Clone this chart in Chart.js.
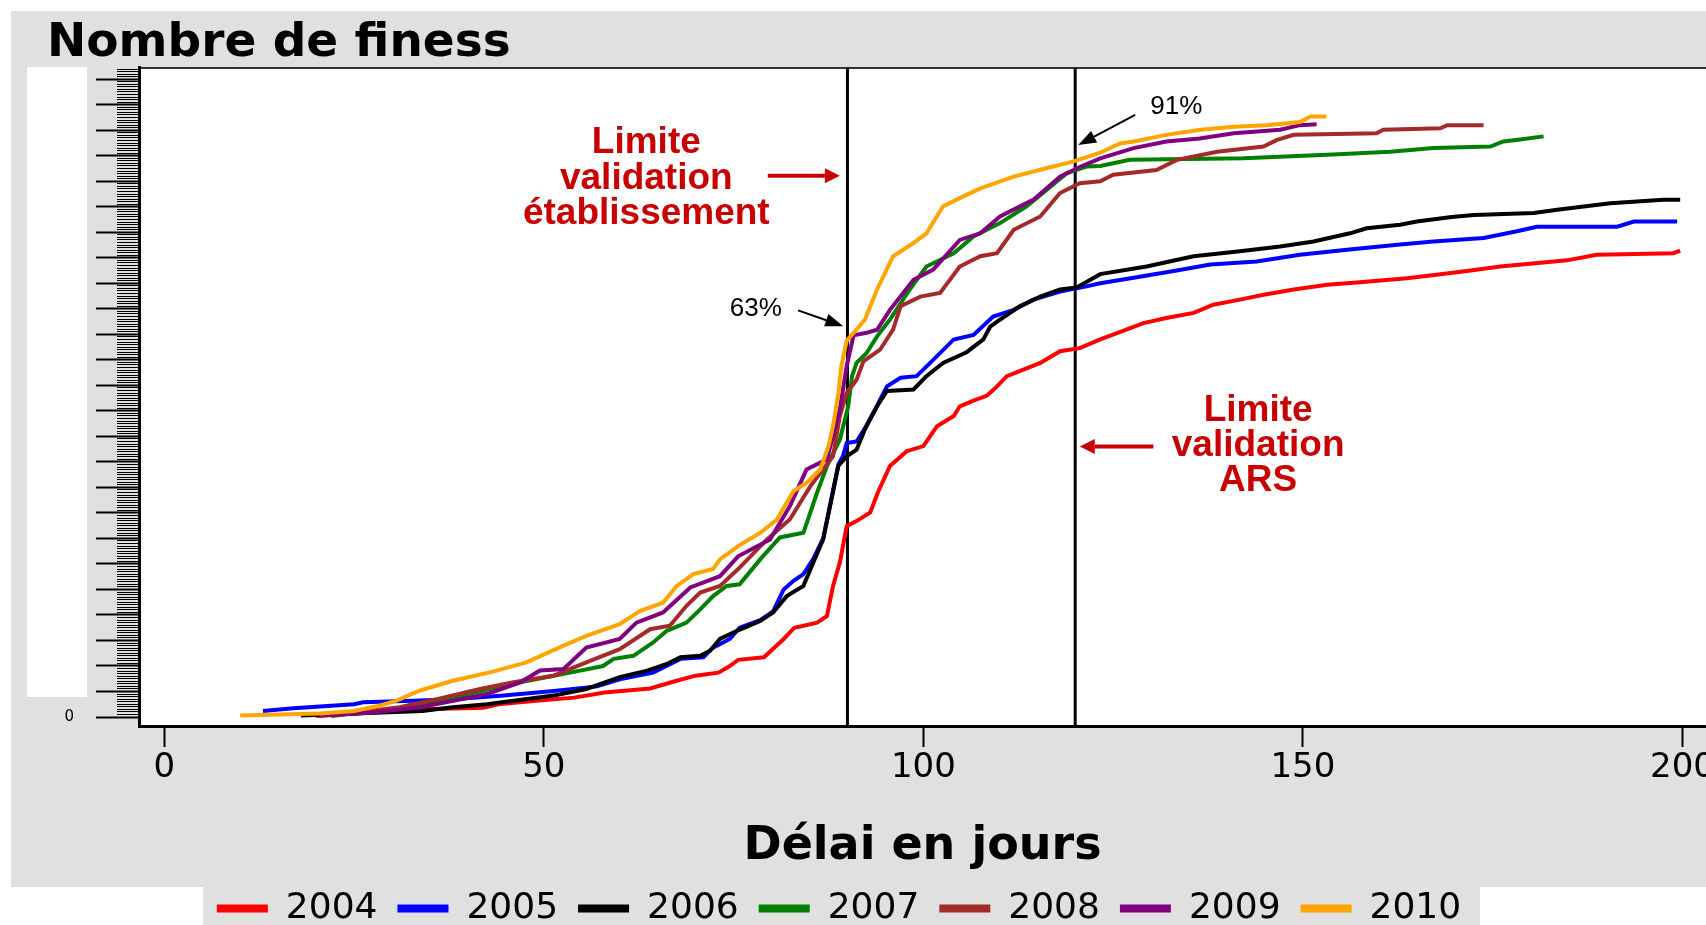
<!DOCTYPE html>
<html><head><meta charset="utf-8">
<script src="https://cdn.jsdelivr.net/npm/chart.js@4/dist/chart.umd.min.js"></script>
<style>html,body{margin:0;padding:0;background:#fff;overflow:hidden}canvas{display:block}</style>
</head><body>
<canvas id="c" width="1706" height="925"></canvas>
<script>
// ---------- data ----------
const years = ['2004', '2005', '2006', '2007', '2008', '2009', '2010'];
const colors = ['#ff0000', '#0000ff', '#000000', '#008000', '#a52a2a', '#800080', '#ffa500'];

const days2004 = [20, 34, 42, 44, 49, 54, 58, 64, 67.5, 70, 73, 74.5, 75.6, 79, 81.6, 83, 86, 87.3, 88.1, 89, 89.9, 91.2, 93, 94, 95.6, 97.8, 100, 101.8, 104, 104.8, 106.6, 108.4, 109.7, 111, 115.4, 118, 120.6, 123.3, 129, 132, 135.6, 138.2, 141.7, 145, 148.8, 153.2, 157.5, 163.7, 167.6, 171.6, 176, 184.8, 188.7, 198.8, 199.7];
const vals2004 = [2, 15, 18, 25, 32, 38, 48, 56, 71, 81, 87, 100, 112, 117, 153, 175, 185, 198, 257, 303, 374, 384, 401, 440, 492, 521, 531, 570, 590, 609, 620, 630, 648, 668, 694, 717, 723, 740, 772, 782, 792, 808, 818, 828, 838, 847, 852, 860, 867, 874, 883, 895, 906, 909, 914];

const days2005 = [13, 17, 25, 26.2, 32.8, 38, 44.7, 51.3, 57, 60, 64.4, 68, 71, 72.3, 74.5, 75.8, 78.5, 80.2, 81.6, 82.9, 84.2, 85.5, 86.8, 87.7, 88.8, 89.4, 89.9, 91.2, 92.3, 93.9, 95.2, 97, 99.1, 100.9, 104, 106.6, 109.2, 111.9, 114.5, 118, 121.5, 123.3, 127.7, 133, 137.8, 143.9, 149.6, 155.8, 162.8, 167.2, 173.8, 178.2, 180.8, 191.4, 193.6, 199.3];
const vals2005 = [12, 17, 25, 29, 32, 35, 42, 51, 60, 74, 87, 114, 117, 136, 153, 175, 190, 207, 250, 267, 280, 310, 350, 415, 495, 511, 537, 540, 566, 610, 648, 665, 668, 694, 740, 749, 785, 798, 818, 834, 844, 850, 861, 874, 887, 893, 906, 916, 926, 932, 939, 952, 961, 961, 971, 971];

const days2006 = [18, 34, 38, 42.5, 51.3, 55.6, 60, 63.6, 66.2, 68, 70.6, 71.9, 73.2, 75.6, 78.5, 80.2, 82, 84.2, 85.5, 86.8, 87.7, 88.8, 89.9, 91.2, 92.3, 93.9, 95.2, 98.7, 100.4, 102.6, 105.7, 107.9, 108.8, 110.1, 112.7, 115.4, 118, 120.2, 123.3, 129.4, 135.6, 141.7, 147, 151.4, 156.2, 158.4, 162.8, 165, 169.6, 172.5, 180.4, 183.5, 190.5, 197.5, 199.7];
const vals2006 = [3, 12, 19, 25, 42, 55, 78, 91, 104, 117, 120, 130, 153, 170, 188, 205, 237, 257, 303, 348, 413, 492, 511, 524, 564, 609, 639, 642, 668, 694, 715, 740, 765, 779, 805, 824, 838, 842, 868, 883, 903, 913, 922, 932, 948, 958, 965, 971, 980, 984, 988, 994, 1007, 1014, 1014];

const days2007 = [22, 30, 35.5, 40, 46.9, 51.3, 54.8, 57.8, 59.2, 61.8, 64.4, 66.2, 68.8, 70.6, 72.3, 74.1, 75.8, 78.5, 81.1, 84.2, 86, 87.3, 89, 90.1, 90.6, 91.2, 92.5, 93.9, 95.6, 98.2, 100.4, 104, 106.6, 110.1, 113.6, 118.9, 121.5, 123.3, 127.2, 142.2, 153.2, 161.5, 167.2, 174.7, 176.4, 178.6, 181.7];
const vals2007 = [2, 15, 29, 45, 68, 81, 91, 100, 114, 120, 146, 169, 185, 211, 237, 257, 260, 309, 352, 361, 440, 492, 544, 609, 668, 694, 713, 746, 779, 838, 883, 909, 942, 968, 1001, 1066, 1079, 1080, 1092, 1095, 1102, 1108, 1115, 1118, 1128, 1132, 1138];

const days2008 = [22, 31, 35.9, 41.6, 46, 51.3, 55.6, 60, 64, 66.6, 68.8, 70.6, 73.2, 75.6, 79.4, 82.4, 85.1, 88.1, 89, 89.9, 91.2, 92.1, 94.3, 96, 97, 99.6, 102.2, 104.8, 107.5, 109.7, 111.9, 115.4, 118, 120.6, 123.3, 125, 130.7, 133.4, 138.7, 144.8, 146.6, 148.8, 159.7, 160.6, 168.1, 169, 173.8];
const vals2008 = [3, 19, 35, 55, 68, 81, 107, 133, 172, 179, 218, 244, 257, 290, 348, 387, 452, 511, 590, 635, 661, 697, 720, 759, 805, 824, 831, 883, 903, 909, 955, 981, 1027, 1046, 1050, 1063, 1072, 1092, 1108, 1118, 1131, 1141, 1144, 1151, 1154, 1160, 1160];

const days2009 = [20.5, 27.5, 33.7, 38.1, 42.5, 46.9, 49.5, 52.6, 55.6, 60, 62.2, 65.7, 69.3, 73.2, 75.6, 79.8, 82.4, 84.6, 87.3, 89, 89.9, 90.8, 92.5, 93.9, 95.6, 98.7, 101.3, 104.8, 107.5, 110.1, 114.5, 118, 120.6, 123.3, 127.7, 132, 136.4, 140.9, 147, 149.6, 151.8];
const vals2009 = [3, 9, 19, 32, 45, 68, 91, 94, 136, 153, 185, 205, 254, 276, 315, 348, 413, 485, 505, 603, 688, 748, 753, 759, 798, 857, 877, 935, 948, 981, 1014, 1059, 1078, 1095, 1115, 1128, 1134, 1144, 1151, 1160, 1162];

const days2010 = [10, 20.5, 25, 28, 30.6, 33.7, 38, 43.3, 47.7, 52.6, 55.6, 60, 62.7, 65.7, 67.5, 69.7, 72.3, 73.2, 75.6, 78.5, 80.7, 82.9, 84.6, 86.4, 87.5, 88.1, 88.8, 89.2, 89.9, 91, 92.3, 93.9, 96, 98.7, 100.4, 102.6, 104.8, 107.5, 111.9, 116.3, 119.8, 123.3, 125.9, 127.7, 132, 136.5, 140.9, 145.2, 149.6, 151, 153.1];
const vals2010 = [3, 7, 12, 21, 32, 52, 71, 89, 107, 140, 159, 182, 208, 224, 257, 280, 290, 309, 335, 361, 387, 443, 459, 485, 531, 570, 635, 688, 738, 756, 779, 838, 903, 929, 948, 1001, 1017, 1036, 1059, 1076, 1089, 1106, 1124, 1128, 1141, 1151, 1157, 1160, 1166, 1177, 1177];

const seriesDays = [days2004, days2005, days2006, days2007, days2008, days2009, days2010];
const seriesVals = [vals2004, vals2005, vals2006, vals2007, vals2008, vals2009, vals2010];

const limitDays = [90, 120];           // vertical validation limits
const xTickValues = [0, 50, 100, 150, 200];
const yMajorStep = 50, yMinorStep = 5;
const xRange = [-3.33, 203.1];
const yRange = [-17.6, 1273];

// annotation texts (anchored in data units)
const noteEtab = ['Limite', 'validation', 'établissement'];
const noteArs = ['Limite', 'validation', 'ARS'];
const pctLabels = ['63%', '91%'];

// ---------- chart ----------
Chart.defaults.font.family = 'DejaVu Sans';
Chart.defaults.color = '#000';

const datasets = years.map((yr, i) => ({
  label: yr,
  data: seriesDays[i].map((d, k) => ({x: d, y: seriesVals[i][k]})),
  borderColor: colors[i],
  backgroundColor: colors[i],
  borderWidth: 4,
  pointRadius: 0,
  fill: false,
  tension: 0,
  order: years.length - 1 - i
}));
limitDays.forEach(d => datasets.push({
  label: 'limit' + d,
  data: [{x: d, y: yRange[0]}, {x: d, y: yRange[1]}],
  borderColor: '#000',
  borderWidth: 3,
  pointRadius: 0,
  fill: false,
  order: 20
}));

const backdrop = {
  id: 'backdrop',
  beforeDraw(chart) {
    const {ctx, chartArea: ca, width: W, height: H} = chart;
    ctx.save();
    ctx.fillStyle = '#ffffff'; ctx.fillRect(0, 0, W, H);
    ctx.fillStyle = '#e0e0e0';
    ctx.fillRect(11, 11, W - 11, 876);
    ctx.fillRect(203, 887, 1277, H - 887);
    ctx.fillStyle = '#ffffff';
    ctx.fillRect(27, 67, 60, 630);
    ctx.fillRect(ca.left, ca.top, ca.right - ca.left, ca.bottom - ca.top);
    ctx.restore();
  }
};

const shifter = {
  id: 'shifter',
  afterLayout(chart) {
    if (chart.titleBlock) { chart.titleBlock.left = 47; }
    if (chart.legend) {
      chart.legend.left -= 14; chart.legend.right -= 14;
      chart.legend.top += 11.5; chart.legend.bottom += 11.5;
    }
  }
};

function arrow(ctx, x1, y1, x2, y2, color, lw, hl, hw) {
  const a = Math.atan2(y2 - y1, x2 - x1);
  const bx = x2 - hl * Math.cos(a), by = y2 - hl * Math.sin(a);
  ctx.strokeStyle = color; ctx.lineWidth = lw;
  ctx.beginPath(); ctx.moveTo(x1, y1); ctx.lineTo(bx, by); ctx.stroke();
  ctx.fillStyle = color;
  ctx.beginPath(); ctx.moveTo(x2, y2);
  ctx.lineTo(bx + hw / 2 * Math.sin(a), by - hw / 2 * Math.cos(a));
  ctx.lineTo(bx - hw / 2 * Math.sin(a), by + hw / 2 * Math.cos(a));
  ctx.closePath(); ctx.fill();
}

const notes = {
  id: 'notes',
  afterDatasetsDraw(chart) {
    const {ctx} = chart;
    const X = v => chart.scales.x.getPixelForValue(v);
    const Y = v => chart.scales.y.getPixelForValue(v);
    const red = '#c80000';
    ctx.save();
    ctx.font = 'bold 37px "Liberation Sans", Arial, sans-serif';
    ctx.fillStyle = red; ctx.textAlign = 'center'; ctx.textBaseline = 'alphabetic';
    [1105, 1035, 967].forEach((v, i) => ctx.fillText(noteEtab[i], X(63.5), Y(v)));
    [581, 511, 442].forEach((v, i) => ctx.fillText(noteArs[i], X(144.1), Y(v)));
    arrow(ctx, X(79.5), Y(1061), X(89.0), Y(1061), red, 4, 15, 15);
    arrow(ctx, X(130.3), Y(530), X(120.6), Y(530), red, 4, 15, 15);
    ctx.font = '26px "Liberation Sans", Arial, sans-serif';
    ctx.fillStyle = '#000'; ctx.textAlign = 'left';
    ctx.fillText(pctLabels[0], X(74.5), Y(785));
    ctx.fillText(pctLabels[1], X(129.9), Y(1182));
    arrow(ctx, X(83.5), Y(797), X(89.45), Y(766), '#000', 2, 18, 13);
    arrow(ctx, X(127.9), Y(1180), X(120.4), Y(1121), '#000', 2, 18, 13);
    ctx.restore();
  }
};

new Chart(document.getElementById('c'), {
  type: 'line',
  data: {datasets},
  plugins: [backdrop, shifter, notes],
  options: {
    responsive: false,
    animation: false,
    devicePixelRatio: 1,
    layout: {padding: 0},
    plugins: {
      tooltip: {enabled: false},
      title: {
        display: true, text: 'Nombre de finess', align: 'start', color: '#000',
        font: {family: 'DejaVu Sans', size: 47, weight: 'bold', lineHeight: 1},
        padding: {top: 20.5, bottom: 0}
      },
      legend: {
        display: true, position: 'bottom',
        labels: {
          color: '#000', boxWidth: 51, boxHeight: 8, padding: 20,
          font: {family: 'DejaVu Sans', size: 36, lineHeight: 1},
          generateLabels(chart) {
            const base = Chart.defaults.plugins.legend.labels.generateLabels(chart);
            return base.filter(it => it.datasetIndex < years.length)
              .map(it => Object.assign({}, it, {lineWidth: 0, fillStyle: colors[it.datasetIndex], strokeStyle: colors[it.datasetIndex]}))
              .sort((a, b) => a.datasetIndex - b.datasetIndex);
          }
        }
      }
    },
    scales: {
      x: {
        type: 'linear', position: 'bottom', min: xRange[0], max: xRange[1],
        afterBuildTicks(s) { s.ticks = xTickValues.map(v => ({value: v})); },
        ticks: {font: {size: 34, lineHeight: 1}, color: '#000', padding: 4, autoSkip: false, maxRotation: 0, includeBounds: false},
        grid: {drawOnChartArea: false, drawTicks: true, tickLength: 21, tickWidth: 2, color: '#000'},
        border: {display: true, color: '#000', width: 3},
        title: {display: true, text: 'Délai en jours', color: '#000',
          font: {family: 'DejaVu Sans', size: 46, weight: 'bold', lineHeight: 1},
          padding: {top: 0, bottom: -11.5}},
        afterFit(s) { s.height = 133; s.paddingLeft = 0; s.paddingRight = 0; }
      },
      xTop: {
        type: 'linear', position: 'top', min: xRange[0], max: xRange[1],
        ticks: {display: false},
        grid: {display: false, drawTicks: false},
        border: {display: true, color: '#333', width: 2},
        afterFit(s) { s.height = 0; s.paddingLeft = 0; s.paddingRight = 0; }
      },
      y: {
        type: 'linear', position: 'left', min: yRange[0], max: yRange[1], weight: 10,
        ticks: {stepSize: yMajorStep, includeBounds: false, autoSkip: false, padding: 22,
          font: {size: 15}, color: '#000',
          callback: v => (v === 0 ? '0' : '')},
        afterBuildTicks(s) { s.ticks = s.ticks.filter(t => t.value >= 0); },
        grid: {drawOnChartArea: false, drawTicks: true, tickLength: 43, tickWidth: 2, color: '#000'},
        border: {display: true, color: '#000', width: 3},
        afterFit(s) { s.width = 139; s.paddingTop = 0; s.paddingBottom = 0; }
      },
      yMinor: {
        type: 'linear', position: 'left', min: yRange[0], max: yRange[1], weight: 0,
        ticks: {display: false, stepSize: yMinorStep, includeBounds: false, autoSkip: false},
        afterBuildTicks(s) { s.ticks = s.ticks.filter(t => t.value >= 0); },
        grid: {drawOnChartArea: false, drawTicks: true, tickLength: 22, tickWidth: 1, color: '#000'},
        border: {display: false},
        afterFit(s) { s.width = 0; s.paddingTop = 0; s.paddingBottom = 0; }
      }
    }
  }
});
</script>
</body></html>
